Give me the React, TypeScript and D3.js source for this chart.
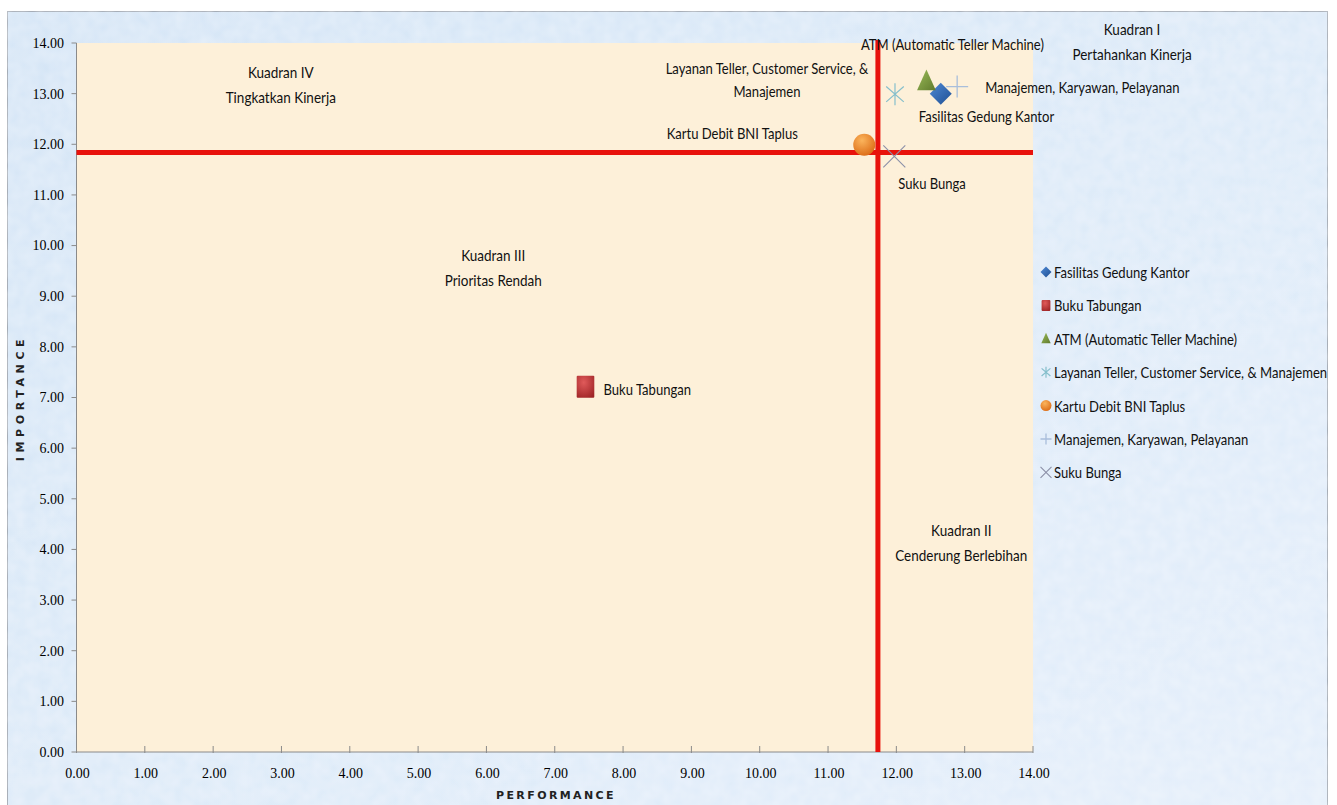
import * as d3 from "d3";
import type { ReactNode } from "react";

// attribute names, performance (x) and importance (y) scores
const names = [
  "Fasilitas Gedung Kantor",
  "Buku Tabungan",
  "ATM (Automatic Teller Machine)",
  "Layanan Teller, Customer Service, & Manajemen",
  "Kartu Debit BNI Taplus",
  "Manajemen, Karyawan, Pelayanan",
  "Suku Bunga",
];
const performance = [12.65, 7.45, 12.44, 11.98, 11.53, 12.89, 11.97];
const importance = [13.0, 7.21, 13.24, 12.99, 11.99, 13.14, 11.76];
const shapes = ["diamond", "square", "triangle", "asterisk", "circle", "plus", "cross"];
const colors = ["#2f6cb7", "#c0383a", "#76933c", "#86bfcc", "#ee8424", "#a9bedb", "#8c90a8"];

const meanX = 11.73;
const meanY = 11.84;
const ticks = d3.range(0, 15, 1);

const quadrants: [number, number, string, string][] = [
  [2.99, 13.3, "Kuadran IV", "Tingkatkan Kinerja"],
  [6.1, 9.7, "Kuadran III", "Prioritas Rendah"],
  [12.95, 4.26, "Kuadran II", "Cenderung Berlebihan"],
  [15.45, 14.16, "Kuadran I", "Pertahankan Kinerja"],
];

const W = 1337;
const H = 805;
const FONT = "Lato, 'Open Sans', sans-serif";
const TICKFONT = "'Liberation Serif', serif";
const SX = 0.9;

const x = d3.scaleLinear().domain([0, 14]).range([76.5, 1033]);
const y = d3.scaleLinear().domain([0, 14]).range([752, 43]);

// condensed text: horizontally squeezed to mimic a narrow font
function Txt({ x: tx, y: ty, anchor = "start", size = 14.5, dy, children }: { x: number; y: number; anchor?: string; size?: number; dy?: string; children: ReactNode }) {
  return (
    <g transform={`translate(${tx},${ty}) scale(${SX},1)`}>
      <text textAnchor={anchor} dy={dy} fontFamily={FONT} fontSize={size} fill="#111">
        {children}
      </text>
    </g>
  );
}

function Marker({ shape, color, cx, cy, s }: { shape: string; color: string; cx: number; cy: number; s: number }) {
  const t = `translate(${cx},${cy})`;
  if (shape === "diamond")
    return <path transform={t} d={`M0,${-s} L${s},0 L0,${s} L${-s},0Z`} fill="url(#gBlue)" />;
  if (shape === "square")
    return <rect transform={t} x={-s * 0.8} y={-s} width={s * 1.6} height={s * 2} fill="url(#gRed)" rx={1} />;
  if (shape === "triangle")
    return <path transform={t} d={`M0,${-s * 1.1} L${s * 0.85},${s * 0.8} L${-s * 0.85},${s * 0.8}Z`} fill="url(#gGreen)" />;
  if (shape === "circle") return <circle transform={t} r={s} fill="url(#gOrange)" />;
  if (shape === "plus")
    return <path transform={t} d={`M${-s},0 L${s},0 M0,${-s} L0,${s}`} stroke={color} strokeWidth={1.3} fill="none" />;
  if (shape === "cross")
    return (
      <path transform={t} d={`M${-s},${-s} L${s},${s} M${s},${-s} L${-s},${s}`} stroke={color} strokeWidth={1.1} fill="none" />
    );
  // asterisk
  return (
    <path
      transform={t}
      d={`M0,${-s} L0,${s} M${-s * 0.8},${-s * 0.7} L${s * 0.8},${s * 0.7} M${s * 0.8},${-s * 0.7} L${-s * 0.8},${s * 0.7}`}
      stroke={color}
      strokeWidth={1.2}
      fill="none"
    />
  );
}

const labelLines: string[][] = [
  ["Fasilitas Gedung Kantor"],
  ["Buku Tabungan"],
  ["ATM (Automatic Teller Machine)"],
  ["Layanan Teller, Customer Service, &", "Manajemen"],
  ["Kartu Debit BNI Taplus"],
  ["Manajemen, Karyawan, Pelayanan"],
  ["Suku Bunga"],
];
const labelOffsets: [number, number, string][] = [
  [-22, 28, "start"],
  [18, 8, "start"],
  [26, -31, "middle"],
  [-128, -20, "middle"],
  [-132, -6, "middle"],
  [28, 6, "start"],
  [4, 33, "start"],
];

export default function App() {
  const legendY = d3.range(names.length).map((i) => 273 + i * 33.4);
  return (
    <svg width={W} height={H} style={{ position: "absolute", left: 0, top: 0 }}>
      <defs>
        <linearGradient id="bg" x1="0" y1="0" x2="1" y2="1">
          <stop offset="0" stopColor="#d3e4f6" />
          <stop offset="0.5" stopColor="#dbe9f8" />
          <stop offset="1" stopColor="#e3eefa" />
        </linearGradient>
        <filter id="tex" x="0" y="0" width="100%" height="100%">
          <feTurbulence type="fractalNoise" baseFrequency="0.08" numOctaves={2} seed={3} result="n" />
          <feColorMatrix in="n" type="matrix" values="0 0 0 0 1  0 0 0 0 1  0 0 0 0 1  0 0 0 0.35 0" result="w" />
          <feComposite in="w" in2="SourceGraphic" operator="in" result="wm" />
          <feMerge>
            <feMergeNode in="SourceGraphic" />
            <feMergeNode in="wm" />
          </feMerge>
        </filter>
        <radialGradient id="gRed" cx="0.4" cy="0.3" r="0.8">
          <stop offset="0" stopColor="#e05a5a" />
          <stop offset="1" stopColor="#9e2426" />
        </radialGradient>
        <linearGradient id="gGreen" x1="0" y1="0" x2="1" y2="1">
          <stop offset="0" stopColor="#9bbb59" />
          <stop offset="1" stopColor="#5f7a2c" />
        </linearGradient>
        <linearGradient id="gBlue" x1="0" y1="0" x2="1" y2="1">
          <stop offset="0" stopColor="#4f8ad6" />
          <stop offset="1" stopColor="#1f4f92" />
        </linearGradient>
        <radialGradient id="gOrange" cx="0.4" cy="0.3" r="0.8">
          <stop offset="0" stopColor="#fbb45c" />
          <stop offset="1" stopColor="#d9650f" />
        </radialGradient>
      </defs>

      <rect x={7.5} y={11.5} width={1320} height={800} fill="url(#bg)" stroke="#9aa2ad" filter="url(#tex)" />
      <rect x={x(0)} y={y(14)} width={x(14) - x(0)} height={y(0) - y(14)} fill="#fdf0d9" />

      {/* axes */}
      <line x1={x(0)} x2={x(0)} y1={y(0)} y2={y(14)} stroke="#8a8a8a" />
      <line x1={x(0)} x2={x(14)} y1={y(0)} y2={y(0)} stroke="#8a8a8a" />
      {ticks.map((t) => (
        <g key={"y" + t}>
          <line x1={x(0) - 5} x2={x(0)} y1={y(t)} y2={y(t)} stroke="#8a8a8a" />
          <text x={64} y={y(t)} dy="0.35em" textAnchor="end" fontFamily={TICKFONT} fontSize={14} fill="#000">
            {t.toFixed(2)}
          </text>
        </g>
      ))}
      {ticks.map((t) => (
        <g key={"x" + t}>
          <line x1={x(t)} x2={x(t)} y1={y(0) - 6} y2={y(0) + 1} stroke="#8a8a8a" />
          <text x={x(t) + 1} y={778} textAnchor="middle" fontFamily={TICKFONT} fontSize={14} fill="#000">
            {t.toFixed(2)}
          </text>
        </g>
      ))}
      <text x={556} y={799} textAnchor="middle" fontFamily="'DejaVu Sans', sans-serif" fontSize={11} fontWeight="bold" letterSpacing={2.4} fill="#222">
        PERFORMANCE
      </text>
      <text
        transform="translate(24,398) rotate(-90)"
        textAnchor="middle"
        fontFamily="'DejaVu Sans', sans-serif"
        fontSize={11}
        fontWeight="bold"
        letterSpacing={4.6}
        fill="#222"
      >
        IMPORTANCE
      </text>

      {/* quadrant dividers */}
      <line x1={x(0)} x2={x(14)} y1={y(meanY)} y2={y(meanY)} stroke="#e8120c" strokeWidth={5} />
      <line x1={x(meanX)} x2={x(meanX)} y1={y(14.06)} y2={y(0)} stroke="#e8120c" strokeWidth={5} />

      {/* quadrant titles */}
      {quadrants.map(([qx, qy, a, b]) => (
        <g key={a}>
          <Txt x={x(qx)} y={y(qy)} anchor="middle" size={15}>{a}</Txt>
          <Txt x={x(qx)} y={y(qy) + 25} anchor="middle" size={15}>{b}</Txt>
        </g>
      ))}

      {/* points */}
      {names.map((n, i) => (
        <Marker key={n} shape={shapes[i]} color={colors[i]} cx={x(performance[i])} cy={y(importance[i])} s={11} />
      ))}
      {names.map((n, i) => {
        const [dx, dy, anchor] = labelOffsets[i];
        const px = x(performance[i]) + dx;
        const py = y(importance[i]) + dy;
        return (
          <g key={"l" + n}>
            {labelLines[i].map((ln, j) => (
              <Txt key={j} x={px} y={py + j * 23} anchor={anchor}>
                {ln}
              </Txt>
            ))}
          </g>
        );
      })}

      {/* legend */}
      {names.map((n, i) => (
        <g key={"lg" + n}>
          <Marker shape={shapes[i]} color={colors[i]} cx={1046} cy={legendY[i] - 1} s={5.5} />
          <Txt x={1054} y={legendY[i]} dy="0.35em">
            {n}
          </Txt>
        </g>
      ))}
    </svg>
  );
}
